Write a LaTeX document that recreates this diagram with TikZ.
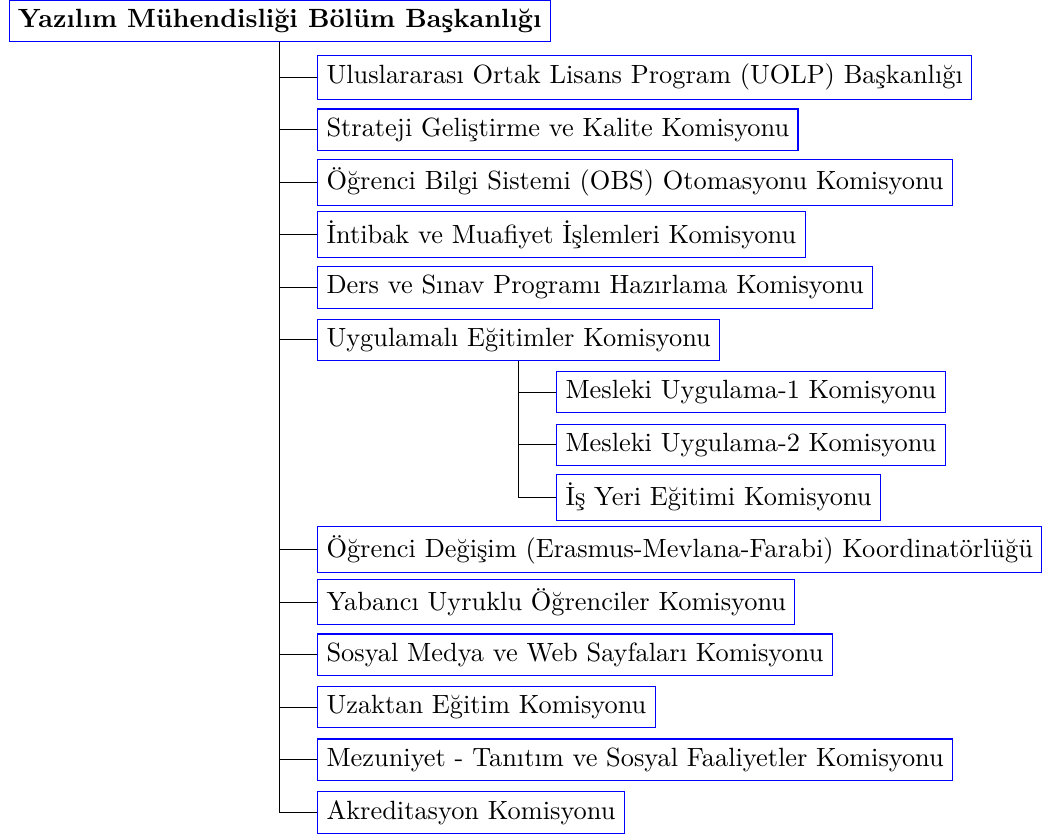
\documentclass[tikz,border=0pt]{standalone}
\tikzset{
	% Two box styles for the chart: the head and its units
	head node/.style={draw=blue,font=\bfseries},
	unit node/.style={draw=blue,anchor=west}
}
\begin{document}
\begin{tikzpicture}

\useasboundingbox (-3.73,0.28) rectangle (10.27,-10.91);

% head of the department
\node(head) at (0, 0) [head node] {Yazılım Mühendisliği Bölüm Başkanlığı};

% units (level 2)
\node(1) at (0.5, -0.75) [unit node] {Uluslararası Ortak Lisans Program (UOLP) Başkanlığı};
\node(2) at (0.5, -1.45) [unit node] {Strateji Geliştirme ve Kalite Komisyonu};
\node(3) at (0.5, -2.15) [unit node] {Öğrenci Bilgi Sistemi (OBS) Otomasyonu Komisyonu};
\node(4) at (0.5, -2.85) [unit node] {İntibak ve Muafiyet İşlemleri Komisyonu};
\node(5) at (0.5, -3.55) [unit node] {Ders ve Sınav Programı Hazırlama Komisyonu};
\node(6) at (0.5, -4.25) [unit node] {Uygulamalı Eğitimler Komisyonu};
\node(10) at (0.5, -7.05) [unit node] {Öğrenci Değişim (Erasmus-Mevlana-Farabi) Koordinatörlüğü};
\node(11) at (0.5, -7.75) [unit node] {Yabancı Uyruklu Öğrenciler Komisyonu};
\node(12) at (0.5, -8.45) [unit node] {Sosyal Medya ve Web Sayfaları Komisyonu};
\node(13) at (0.5, -9.15) [unit node] {Uzaktan Eğitim Komisyonu};
\node(14) at (0.5, -9.85) [unit node] {Mezuniyet - Tanıtım ve Sosyal Faaliyetler Komisyonu};
\node(15) at (0.5, -10.55) [unit node] {Akreditasyon Komisyonu};

% units under node 6 (level 3)
\node(7) at ([shift={(0.5,-0.7)}]6.center) [unit node] {Mesleki Uygulama-1 Komisyonu};
\node(8) at ([shift={(0.5,-1.4)}]6.center) [unit node] {Mesleki Uygulama-2 Komisyonu};
\node(9) at ([shift={(0.5,-2.1)}]6.center) [unit node] {İş Yeri Eğitimi Komisyonu};

\foreach \n in {1,...,6,10,11,...,15}
	\draw (head.south) |- (\n.west);
\foreach \n in {7,8,9}
	\draw (6.south) |- (\n.west);

\end{tikzpicture}
\end{document}
